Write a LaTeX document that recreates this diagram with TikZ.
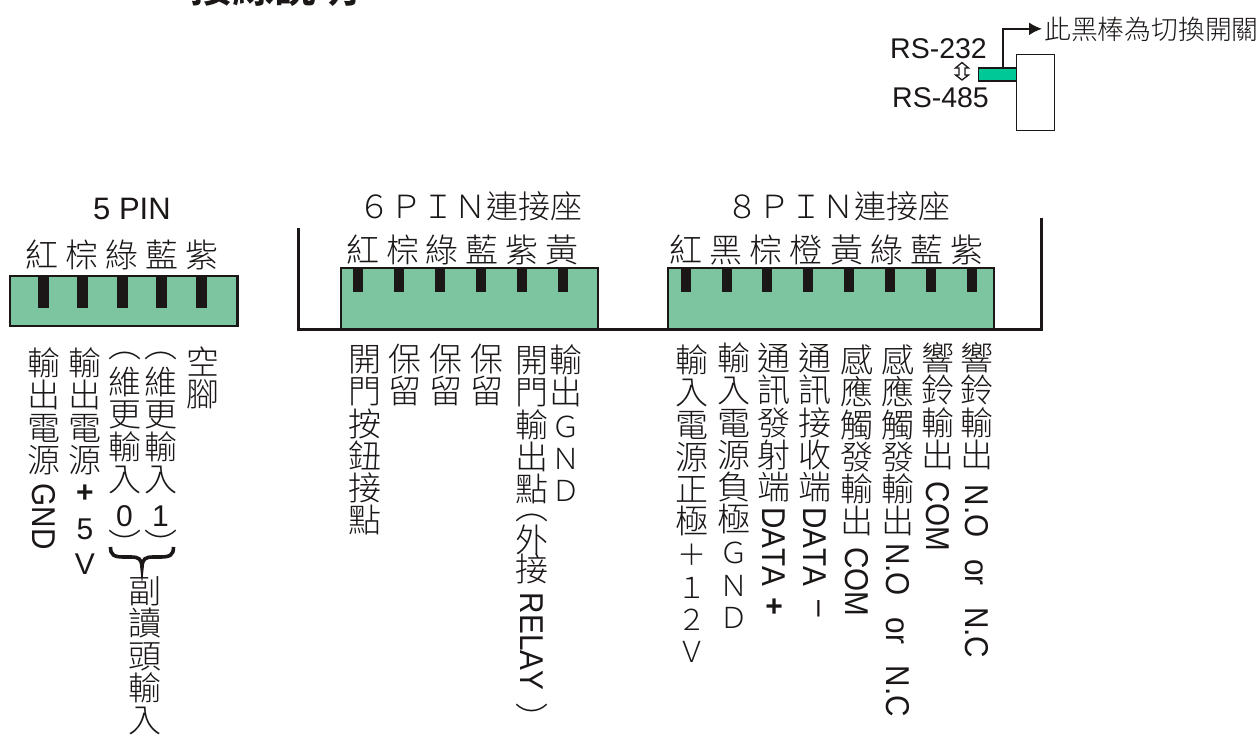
\documentclass[tikz,border=0pt]{standalone}
\usepackage{fontspec}
\usepackage{graphicx}
\usetikzlibrary{arrows.meta}
\newfontfamily\cjk[UprightFont=* Light,BoldFont=* Bold]{Noto Sans CJK TC}
\newfontfamily\lsans[Kerning=Off]{Liberation Sans}
\definecolor{pcbgreen}{HTML}{7DC5A0}
\definecolor{barteal}{HTML}{00C896}
\definecolor{inkblack}{HTML}{1A1716}
% one cell of a vertical column, #1 = its height, #2 = what stands in it
\newcommand\ccp[2]{\hbox to 40pt{\hss\vrule width 0pt height #1pt depth 0pt\raisebox{\dimexpr #1pt/2 - 12.5pt\relax}{\smash{#2}}\hss}}
\newcommand\cc[1]{\ccp{32.2}{#1}}
\newcommand\gapv[1]{\kern #1pt\relax}
% Latin text turned a quarter to the right
\newcommand\lat[1]{\hbox to 40pt{\hss\rotatebox{-90}{\scalebox{.9}[1]{\fontsize{33}{33}\selectfont\lsans #1}}\hss}}
\newcommand\wsp{\hspace{24pt}}
\newcommand\lu[1]{{\fontsize{30}{30}\selectfont\lsans #1}}
\newcommand\fw[1]{{\fontsize{29}{29}\selectfont #1}}
\newcommand\parcell[2]{\raisebox{#1pt}{#2}}
\newcommand\vcolumn[4]{\node[vcol] (#1) at (#2,#3) {\vbox{\offinterlineskip #4}};}
\newcommand\rc[2]{\hbox to #1pt{\hss #2\hss}}
\tikzset{
  vcol/.style={anchor=north,inner sep=0pt,outer sep=0pt,text=inkblack,font=\cjk\fontsize{33}{33}\selectfont},
  rowlbl/.style={anchor=base,inner sep=0pt,text=inkblack,font=\cjk\fontsize{33}{33}\selectfont},
  hdg/.style={anchor=base,inner sep=0pt,text=inkblack,font=\cjk\fontsize{32}{32}\selectfont},
  rslbl/.style={anchor=base,inner sep=0pt,text=inkblack,font=\lsans\fontsize{28.5}{28.5}\selectfont},
  pcb/.style={draw=inkblack,fill=pcbgreen},
  pin/.style={fill=inkblack,draw=none},
  wall/.style={draw=inkblack,line width=3pt}
}
\begin{document}
\begin{tikzpicture}[x=1pt,y=-1pt]
\useasboundingbox (0,0) rectangle (1260,734);
\clip (0,0) rectangle (1260,734);
\fill[white] (0,0) rectangle (1260,734);
% cropped title
\node[anchor=base west,inner sep=0pt,text=inkblack,font=\cjk\bfseries\fontsize{42}{42}\selectfont] (title) at (190,2) {接線說明};
% switch sketch
\node[draw=inkblack,line width=1.5pt,fill=white,anchor=north west,minimum width=38pt,minimum height=76pt,inner sep=0pt] (swbody) at (1015.5,53.5) {};
\node[draw=inkblack,line width=1.5pt,fill=barteal,anchor=north west,minimum width=38pt,minimum height=13pt,inner sep=0pt] (swbar) at (977.5,67) {};
\node[anchor=base west,inner sep=0pt,text=inkblack,font=\cjk\fontsize{26.8}{26.8}\selectfont] (swnote) at (1044,39) {此黑棒為切換開關};
\coordinate (armfoot) at (1003,67);
\draw[inkblack,line width=2pt,-{Latex[length=13pt,width=13pt]},shorten >=2pt] (armfoot) |- (swnote.west);
\node[rslbl] (rsa) at (938.5,58) {RS-232};
\node[rslbl] (rsb) at (940.5,107) {RS-485};
\filldraw[draw=inkblack,fill=white,line width=1.3pt,line join=miter] (962,62.5) -- (968.5,68) -- (965,68) -- (965,75) -- (968.5,75) -- (962,80) -- (955.5,75) -- (959,75) -- (959,68) -- (955.5,68) -- cycle;
% 5 PIN
\node[anchor=base,inner sep=0pt,text=inkblack,font=\lsans\fontsize{31}{31}\selectfont] (h5) at (132,219.5) {5 PIN};
\node[rowlbl] (r5) at (122,267.5) {\hbox{\rc{40}{紅}\rc{40}{棕}\rc{40}{綠}\rc{40}{藍}\rc{40}{紫}}};
\filldraw[pcb,line width=2.6pt] (10,276) rectangle (237.5,326);
\foreach \x in {43,82,122,161,201} \fill[pin] (\x-5.5,276) rectangle (\x+5.5,308);
% tray
\draw[wall,line join=miter] (298,228) -- (298,329) -- (1041,329) -- (1041,218);
% 6 PIN
\node[hdg] (h6) at (470,218.5) {６ＰＩＮ連接座};
\node[rowlbl] (r6) at (462.5,262.5) {\hbox{\rc{40}{紅}\rc{40}{棕}\rc{40}{綠}\rc{40}{藍}\rc{40}{紫}\rc{40}{黃}}};
\filldraw[pcb,line width=1.6pt] (341,268) rectangle (598,329);
\foreach \x in {358,399,440,481,522,563} \fill[pin] (\x-5,268) rectangle (\x+5,292);
% 8 PIN
\node[hdg] (h8) at (838,218.5) {８ＰＩＮ連接座};
\node[rowlbl] (r8) at (826.5,262.5) {\hbox{\rc{40.15}{紅}\rc{40.15}{黑}\rc{40.15}{棕}\rc{40.15}{橙}\rc{40.15}{黃}\rc{40.15}{綠}\rc{40.15}{藍}\rc{40.15}{紫}}};
\filldraw[pcb,line width=1.6pt] (668,268) rectangle (994,329);
\foreach \x in {686,727,767,808,849,890,931,972} \fill[pin] (\x-5,268) rectangle (\x+5,292);
\draw[wall] (298,329) -- (1041,329);
% 5 PIN columns
\vcolumn{a1}{44}{347}{\cc{輸}\cc{出}\cc{電}\cc{源}\gapv{8}\lat{GND}}
\vcolumn{a2}{85}{347}{\cc{輸}\cc{出}\cc{電}\cc{源}\ccp{28}{\lu{\bfseries +}}\ccp{46}{\lu{5}}\ccp{25}{\lu{V}}}
\vcolumn{a3}{124.5}{340}{\ccp{26}{\parcell{8}{︵}}\cc{維}\cc{更}\cc{輸}\cc{入}\ccp{38}{\lu{0}}\ccp{24}{\parcell{0}{︶}}}
\vcolumn{a4}{160.5}{340}{\ccp{26}{\parcell{8}{︵}}\cc{維}\cc{更}\cc{輸}\cc{入}\ccp{38}{\lu{1}}\ccp{24}{\parcell{0}{︶}}}
\vcolumn{a5}{203}{346}{\cc{空}\cc{腳}}
\vcolumn{a6}{145}{575}{\cc{副}\cc{讀}\cc{頭}\cc{輸}\cc{入}}
\draw[inkblack,line width=3.6pt] (110.5,547) .. controls (110.5,555) and (114,557) .. (124,557) -- (131,557) .. controls (139,557) and (141.5,559) .. (142,567) .. controls (142.5,559) and (145,557) .. (153,557) -- (160,557) .. controls (170,557) and (173.5,555) .. (173.5,547);
% 6 PIN columns
\vcolumn{b1}{365}{343}{\cc{開}\cc{門}\cc{按}\cc{鈕}\cc{接}\cc{點}}
\vcolumn{b2}{405}{343}{\cc{保}\cc{留}}
\vcolumn{b3}{446}{343}{\cc{保}\cc{留}}
\vcolumn{b4}{487}{343}{\cc{保}\cc{留}}
\vcolumn{b5}{532}{344}{\cc{開}\cc{門}\cc{輸}\cc{出}\cc{點}\ccp{15.5}{\parcell{6}{︵}}\ccp{29}{外}\ccp{29}{接}\gapv{9.5}\lat{RELAY}\ccp{58}{\parcell{0}{︶}}}
\vcolumn{b6}{566}{344}{\cc{輸}\cc{出}\cc{\fw{Ｇ}}\cc{\fw{Ｎ}}\cc{\fw{Ｄ}}}
% 8 PIN columns
\vcolumn{c1}{692}{344}{\cc{輸}\cc{入}\cc{電}\cc{源}\cc{正}\cc{極}\cc{\fw{＋}}\cc{\fw{１}}\cc{\fw{２}}\cc{\fw{Ｖ}}}
\vcolumn{c2}{734}{342}{\cc{輸}\cc{入}\cc{電}\cc{源}\cc{負}\cc{極}\cc{\fw{Ｇ}}\cc{\fw{Ｎ}}\cc{\fw{Ｄ}}}
\vcolumn{c3}{774}{342}{\cc{通}\cc{訊}\cc{發}\cc{射}\cc{端}\gapv{4}\lat{DATA}\ccp{36}{\lu{\bfseries +}}}
\vcolumn{c4}{815}{342}{\cc{通}\cc{訊}\cc{接}\cc{收}\cc{端}\gapv{4}\lat{DATA}\gapv{14}\lat{–}}
\vcolumn{c5}{857}{344}{\cc{感}\cc{應}\cc{觸}\cc{發}\cc{輸}\cc{出}\gapv{10}\lat{COM}}
\vcolumn{c6}{898}{344}{\cc{感}\cc{應}\cc{觸}\cc{發}\cc{輸}\cc{出}\gapv{6}\lat{N.O\wsp or\wsp N.C}}
\vcolumn{c7}{937.5}{342}{\cc{響}\cc{鈴}\cc{輸}\cc{出}\gapv{11}\lat{COM}}
\vcolumn{c8}{977}{342}{\cc{響}\cc{鈴}\cc{輸}\cc{出}\gapv{14}\lat{N.O\wsp or\wsp N.C}}
\end{tikzpicture}
\end{document}
